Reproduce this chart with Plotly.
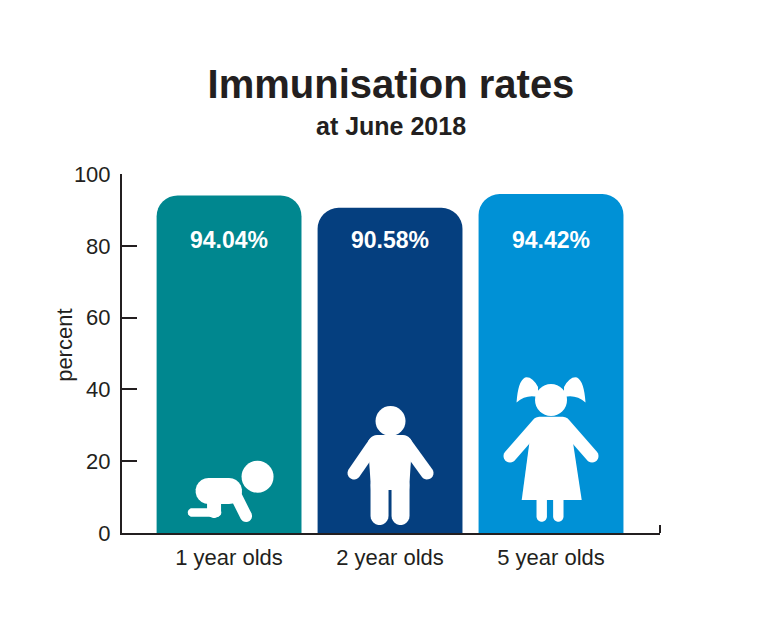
import numpy as np
import plotly.graph_objects as go

categories = ["1 year olds", "2 year olds", "5 year olds"]
rates = [94.04, 90.58, 94.42]
rate_labels = ["94.04%", "90.58%", "94.42%"]
bar_colors = ["#00878F", "#053F7F", "#0091D6"]
y_ticks = [0, 20, 40, 60, 80, 100]

TEXT = "#231F20"
FONT = "Liberation Sans, Arial, sans-serif"

fig = go.Figure()
fig.add_trace(go.Bar(
    x=categories, y=rates, marker=dict(color=bar_colors, line=dict(width=0)),
    width=0.9, hoverinfo="skip", showlegend=False,
))

# value labels
for c, lab in zip(categories, rate_labels):
    fig.add_annotation(x=c, y=0.816, xref="x", yref="paper", text="<b>" + lab + "</b>",
                       showarrow=False, font=dict(family=FONT, size=23, color="white"),
                       xanchor="center", yanchor="middle")

# ---------- icon helpers (pixel geometry relative to bar base) ----------
def capsule(p1, p2, r, n=12):
    (x1, y1), (x2, y2) = p1, p2
    a = np.arctan2(y2 - y1, x2 - x1)
    pts = []
    for t in np.linspace(a - np.pi / 2, a + np.pi / 2, n):
        pts.append((x2 + r * np.cos(t), y2 + r * np.sin(t)))
    for t in np.linspace(a + np.pi / 2, a + 3 * np.pi / 2, n):
        pts.append((x1 + r * np.cos(t), y1 + r * np.sin(t)))
    return pts

def poly_path(pts, cx, base=533):
    return "M " + " L ".join(f"{px - cx:.2f},{base - py:.2f}" for px, py in pts) + " Z"

def torso(x0, x1, y0, y1, inset, rt, n=8):
    pts = []
    for t in np.linspace(np.pi, 1.5 * np.pi, n):
        pts.append((x0 + rt + rt * np.cos(t), y0 + rt + rt * np.sin(t)))
    for t in np.linspace(1.5 * np.pi, 2 * np.pi, n):
        pts.append((x1 - rt + rt * np.cos(t), y0 + rt + rt * np.sin(t)))
    pts.append((x1 - inset, y1))
    pts.append((x0 + inset, y1))
    return pts

def add_path(idx, path):
    fig.add_shape(type="path", xref="x", yref="y", xsizemode="pixel", ysizemode="pixel",
                  xanchor=idx, yanchor=0, path=path,
                  fillcolor="white", line=dict(width=0), layer="above")

def add_circle(idx, cx, px, py, r, base=533):
    fig.add_shape(type="circle", xref="x", yref="y", xsizemode="pixel", ysizemode="pixel",
                  xanchor=idx, yanchor=0,
                  x0=px - cx - r, x1=px - cx + r, y0=base - py - r, y1=base - py + r,
                  fillcolor="white", line=dict(width=0), layer="above")

# baby (bar 0), centre 229
cx = 229
add_circle(0, cx, 257.5, 476.7, 16)
add_path(0, poly_path(capsule((208.5, 491), (229, 491), 13), cx))
add_path(0, poly_path(capsule((233, 490), (246, 516), 6), cx))
add_path(0, poly_path(capsule((214, 498), (214, 511), 7), cx))
add_path(0, poly_path(capsule((192, 512.5), (217, 512.5), 4.3), cx))

# boy (bar 1), centre 390
cx = 390
add_circle(1, cx, 390.5, 421, 15)
add_path(1, poly_path(torso(368, 412, 435, 490, 3, 9), cx))
add_path(1, poly_path(capsule((374, 444), (354, 473), 6.5), cx))
add_path(1, poly_path(capsule((406, 444), (427, 473), 6.5), cx))
add_path(1, poly_path(capsule((379.5, 485), (379.5, 516), 9), cx))
add_path(1, poly_path(capsule((400.5, 485), (400.5, 516), 9), cx))

# girl (bar 2), centre 551
cx = 551
add_circle(2, cx, 551, 400, 16)
def pig(mirror):
    def m(x):
        return 1102 - x if mirror else x
    pts = [(538, 387), (532, 376), (525, 377.5), (518, 381), (516.5, 402.5), (526, 394), (538, 397)]
    return "M {:.2f},{:.2f} Q {:.2f},{:.2f} {:.2f},{:.2f} Q {:.2f},{:.2f} {:.2f},{:.2f} Q {:.2f},{:.2f} {:.2f},{:.2f} Z".format(
        *sum([[m(px) - cx, 533 - py] for px, py in pts], []))
add_path(2, pig(False))
add_path(2, pig(True))
dress = [(532, 423), (535, 418), (539, 416.7), (563, 416.7), (567, 418), (570, 423), (581.7, 500), (521.7, 500)]
add_path(2, poly_path(dress, cx))
add_path(2, poly_path(capsule((538, 424), (510, 456), 6.5), cx))
add_path(2, poly_path(capsule((564, 424), (592, 456), 6.5), cx))
add_path(2, poly_path(capsule((541.7, 498), (541.7, 516.5), 5.2), cx))
add_path(2, poly_path(capsule((558.3, 498), (558.3, 516.5), 5.2), cx))

# small end tick at right of x axis
fig.add_shape(type="line", xref="paper", yref="y", ysizemode="pixel", yanchor=0,
              x0=1, x1=1, y0=0, y1=8, line=dict(color=TEXT, width=2))

# subtitle and y-axis title
fig.add_annotation(x=0.5, y=1.135, xref="paper", yref="paper", text="<b>at June 2018</b>",
                   showarrow=False, font=dict(family=FONT, size=25, color=TEXT),
                   xanchor="center", yanchor="middle")
fig.add_annotation(x=-0.106, y=0.524, xref="paper", yref="paper", text="percent",
                   textangle=-90, showarrow=False, font=dict(family=FONT, size=22, color=TEXT),
                   xanchor="center", yanchor="middle")

fig.update_layout(
    width=752, height=625,
    margin=dict(l=114, r=100, t=166, b=100),
    paper_bgcolor="white", plot_bgcolor="white",
    title=dict(text="<b>Immunisation rates</b>", x=0.5, xanchor="center", xref="paper",
               y=1 - 76 / 625, yanchor="middle", yref="container",
               font=dict(family=FONT, size=40, color=TEXT)),
    barcornerradius=21,
    font=dict(family=FONT, color=TEXT),
    xaxis=dict(type="category", range=[-0.665, 2.677], showgrid=False, zeroline=False,
               showline=True, linecolor=TEXT, linewidth=2, ticks="",
               tickfont=dict(family=FONT, size=22, color=TEXT), ticklabelstandoff=4,
               fixedrange=True),
    yaxis=dict(range=[0, 100], tickvals=y_ticks, showgrid=False, zeroline=False,
               showline=True, linecolor=TEXT, linewidth=2, ticks="inside", ticklen=15,
               tickwidth=2, tickcolor=TEXT, tickfont=dict(family=FONT, size=22, color=TEXT),
               ticklabelstandoff=5, fixedrange=True),
    showlegend=False,
)

fig.write_html("out.html")
